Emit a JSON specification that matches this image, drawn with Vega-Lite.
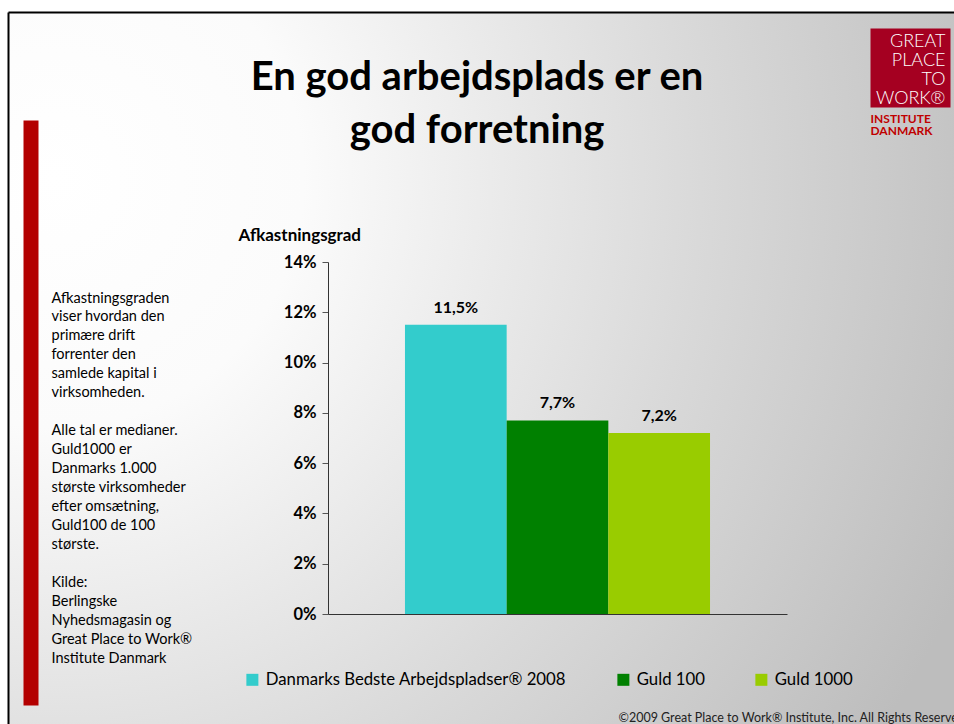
{
  "$schema": "https://vega.github.io/schema/vega-lite/v6.json",
  "width": 946,
  "height": 712,
  "autosize": {"type": "none"},
  "padding": {"left": 8, "top": 12, "right": 0, "bottom": 0},
  "background": "#ffffff",
  "view": {
    "stroke": null,
    "fill": {
      "gradient": "radial",
      "x1": 0.05, "y1": 0.3, "r1": 0,
      "x2": 0.05, "y2": 0.3, "r2": 1.05,
      "stops": [
        {"offset": 0, "color": "#ffffff"},
        {"offset": 0.25, "color": "#fbfbfb"},
        {"offset": 0.65, "color": "#d9d9d9"},
        {"offset": 1, "color": "#bdbdbd"}
      ]
    }
  },
  "config": {
    "locale": {"number": {"decimal": ",", "thousands": ".", "grouping": [3], "currency": ["", " kr."]}},
    "font": "Lato",
    "axis": {"labelFont": "Lato", "titleFont": "Lato"},
    "legend": {"labelFont": "Lato", "titleFont": "Lato"},
    "title": {"font": "Lato"},
    "text": {"font": "Lato"}
  },
  "title": {
    "text": ["En god arbejdsplads er en", "god forretning"],
    "anchor": "middle",
    "frame": "group",
    "baseline": "top",
    "fontSize": 40,
    "fontWeight": "bold",
    "color": "#000000",
    "lineHeight": 53,
    "offset": -139,
    "dx": -4
  },
  "data": {
    "values": [
      {"serie": "Danmarks Bedste Arbejdspladser® 2008", "afkast": 0.115},
      {"serie": "Guld 100", "afkast": 0.077},
      {"serie": "Guld 1000", "afkast": 0.072}
    ]
  },
  "resolve": {
    "scale": {"x": "independent", "y": "independent"},
    "axis": {"x": "independent", "y": "independent"}
  },
  "layer": [
    {
      "mark": {"type": "bar"},
      "encoding": {
        "x": {
          "field": "serie", "type": "nominal", "sort": null,
          "scale": {"range": [320, 779], "paddingInner": 0, "paddingOuter": 0.757},
          "axis": {
            "orient": "bottom", "offset": -110,
            "labels": false, "ticks": false, "grid": false,
            "domainColor": "#333333", "domainWidth": 1,
            "title": ["Afkastningsgraden", "viser hvordan den", "primære drift", "forrenter den", "samlede kapital i", "virksomheden."],
            "titleAngle": 0, "titleAlign": "left", "titleBaseline": "alphabetic",
            "titleX": 43, "titleY": -312,
            "titleFontSize": 14.5, "titleFontWeight": "normal", "titleColor": "#000000",
            "titleLineHeight": 18.95
          }
        },
        "y": {
          "field": "afkast", "type": "quantitative",
          "scale": {"domain": [0, 0.14], "range": [602, 250], "nice": false, "zero": true},
          "axis": {
            "orient": "left", "offset": -320,
            "values": [0, 0.02, 0.04, 0.06, 0.08, 0.1, 0.12, 0.14],
            "format": ".0%", "grid": false,
            "domainColor": "#333333", "tickColor": "#555555", "tickSize": 6,
            "labelFontSize": 16.5, "labelFontWeight": "bold", "labelColor": "#000000", "labelPadding": 6,
            "title": "Afkastningsgrad",
            "titleAngle": 0, "titleAlign": "left", "titleBaseline": "alphabetic",
            "titleX": -90, "titleY": 228,
            "titleFontSize": 17, "titleFontWeight": "bold", "titleColor": "#000000"
          }
        },
        "color": {
          "field": "serie", "type": "nominal", "sort": null,
          "scale": {
            "domain": ["Danmarks Bedste Arbejdspladser® 2008", "Guld 100", "Guld 1000"],
            "range": ["#33CCCC", "#008000", "#99CC00"]
          },
          "legend": {
            "orient": "none", "legendX": 236, "legendY": 659,
            "direction": "horizontal", "title": null,
            "symbolType": "square", "symbolSize": 144, "symbolStrokeWidth": 0,
            "labelFontSize": 16.75, "labelColor": "#000000", "labelOffset": 5, "labelLimit": 500,
            "columnPadding": 48
          }
        }
      }
    },
    {
      "mark": {"type": "text", "fontSize": 16, "fontWeight": "bold", "baseline": "bottom", "dy": -9, "color": "#000000"},
      "encoding": {
        "x": {
          "field": "serie", "type": "nominal", "sort": null, "bandPosition": 0.5,
          "scale": {"type": "band", "range": [320, 779], "paddingInner": 0, "paddingOuter": 0.757},
          "axis": {
            "orient": "bottom", "offset": -110,
            "domain": false, "labels": false, "ticks": false, "grid": false,
            "title": ["Alle tal er medianer.", "Guld1000 er", "Danmarks 1.000", "største virksomheder", "efter omsætning,", "Guld100 de 100", "største."],
            "titleAngle": 0, "titleAlign": "left", "titleBaseline": "alphabetic",
            "titleX": 43, "titleY": -179.3,
            "titleFontSize": 14.5, "titleFontWeight": "normal", "titleColor": "#000000",
            "titleLineHeight": 18.95
          }
        },
        "y": {
          "field": "afkast", "type": "quantitative",
          "scale": {"domain": [0, 0.14], "range": [602, 250], "nice": false, "zero": true},
          "axis": {
            "orient": "right", "offset": 0,
            "domain": false, "ticks": false, "labels": false, "grid": false,
            "title": "©2009 Great Place to Work® Institute, Inc.  All Rights Reserved",
            "titleAngle": 0, "titleAlign": "left", "titleBaseline": "alphabetic",
            "titleX": -336, "titleY": 709,
            "titleFontSize": 12.5, "titleFontWeight": "normal", "titleColor": "#222222"
          }
        },
        "text": {"field": "afkast", "type": "quantitative", "format": ".1%"}
      }
    },
    {
      "mark": {"type": "point", "opacity": 0},
      "encoding": {
        "x": {
          "field": "serie", "type": "nominal", "sort": null,
          "scale": {"range": [862, 942]},
          "axis": {
            "orient": "top", "offset": -55.5,
            "domainColor": "#A50021", "domainWidth": 79,
            "labels": false, "ticks": false, "grid": false,
            "title": ["GREAT", "PLACE", "TO", "WORK®"],
            "titleAngle": 0, "titleAlign": "right", "titleBaseline": "alphabetic",
            "titleX": 937, "titleY": -21.5,
            "titleFontSize": 18, "titleFontWeight": 300, "titleColor": "#ffffff",
            "titleLineHeight": 19
          }
        },
        "y": {
          "field": "afkast", "type": "quantitative",
          "scale": {"domain": [0, 0.14], "range": [693, 108], "nice": false},
          "axis": {
            "orient": "left", "offset": -22.5,
            "domainColor": "#B30000", "domainWidth": 15,
            "labels": false, "ticks": false, "grid": false,
            "title": ["INSTITUTE", "DANMARK"],
            "titleAngle": 0, "titleAlign": "left", "titleBaseline": "alphabetic",
            "titleX": 839.5, "titleY": 110,
            "titleFontSize": 12, "titleFontWeight": "bold", "titleColor": "#C00000",
            "titleLineHeight": 12
          }
        }
      }
    },
    {
      "mark": {"type": "point", "opacity": 0},
      "encoding": {
        "x": {
          "field": "serie", "type": "nominal", "sort": null,
          "axis": {
            "orient": "top", "offset": 0,
            "domainColor": "#000000", "domainWidth": 2,
            "labels": false, "ticks": false, "grid": false, "title": null
          }
        },
        "y": {
          "field": "afkast", "type": "quantitative",
          "scale": {"domain": [0, 0.14], "nice": false},
          "axis": {
            "orient": "left", "offset": 0,
            "domainColor": "#000000", "domainWidth": 2,
            "labels": false, "ticks": false, "grid": false,
            "title": ["Kilde:", "Berlingske", "Nyhedsmagasin og", "Great Place to Work®", "Institute Danmark"],
            "titleAngle": 0, "titleAlign": "left", "titleBaseline": "alphabetic",
            "titleX": 43, "titleY": 574.3,
            "titleFontSize": 14.5, "titleFontWeight": "normal", "titleColor": "#000000",
            "titleLineHeight": 18.95
          }
        }
      }
    }
  ]
}
